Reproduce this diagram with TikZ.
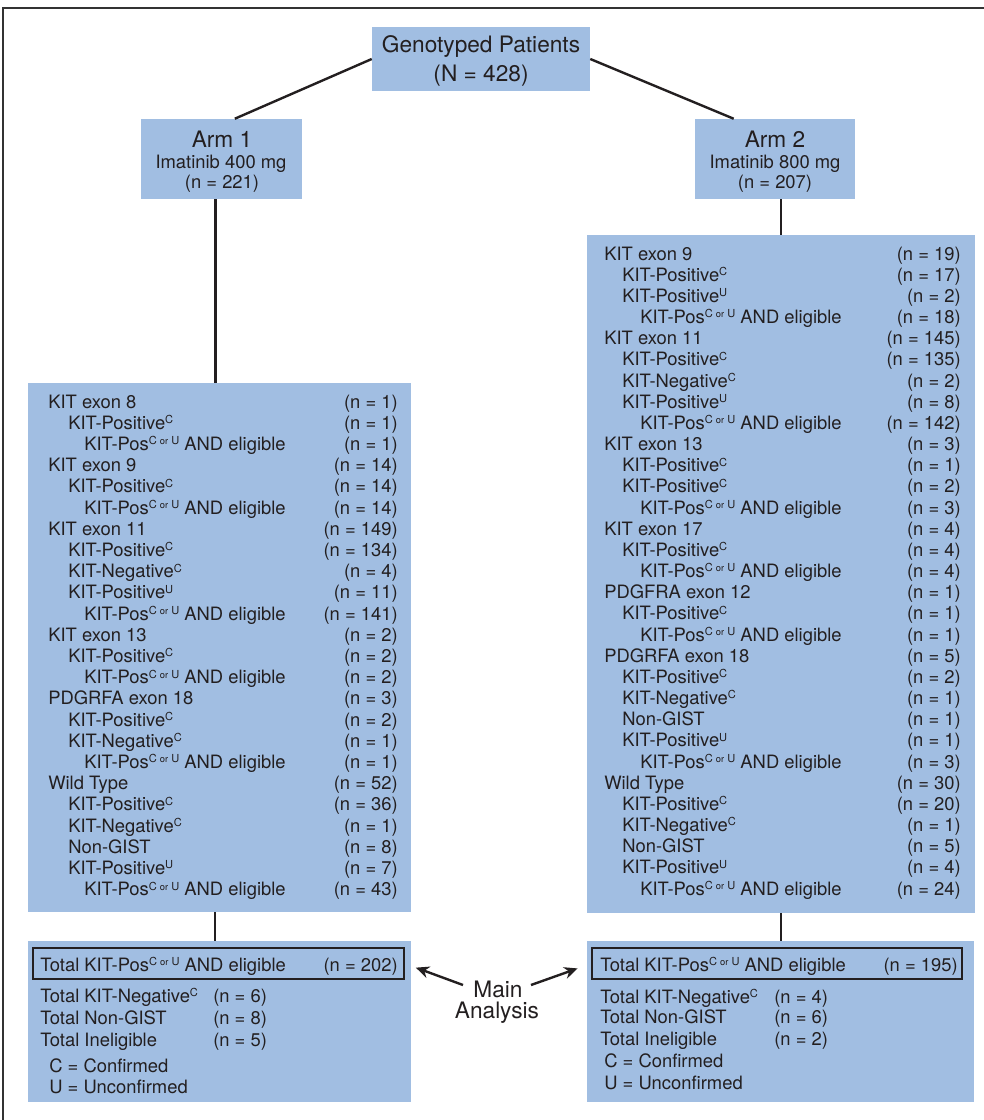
\documentclass[tikz,border=0pt]{standalone}
\usepackage{fontspec}
\setmainfont{TeX Gyre Heros}
\usetikzlibrary{fit,arrows.meta}

\definecolor{armblue}{RGB}{161,190,226}
\definecolor{inkgray}{RGB}{35,31,32}
\newcommand{\upsc}[1]{\raisebox{4.2pt}{\fontsize{8.3}{8}\selectfont #1}}
\newcommand{\supC}{\upsc{C}}
\newcommand{\supU}{\upsc{U}}
\newcommand{\posCU}{KIT-Pos\upsc{C {\fontsize{7}{7}\selectfont or} U} AND eligible}
\newcommand{\listfont}{\fontsize{13.8}{16}\selectfont}
\newcommand{\headfont}{\fontsize{17}{20}\selectfont}

\tikzset{
  bluebox/.style={fill=armblue, inner sep=0pt},
  mainbox/.style={draw=inkgray, line width=0.9pt, inner sep=0pt},
  rowtxt/.style={anchor=base west, inner sep=0pt, font=\listfont, text=inkgray},
  rowcnt/.style={anchor=base east, inner sep=0pt, font=\listfont, text=inkgray},
  headtxt/.style={anchor=base, inner sep=0pt, text=inkgray},
  link/.style={line width=1.8pt, inkgray},
}

\begin{document}
\begin{tikzpicture}[x=0.75pt, y=-0.75pt]
   \useasboundingbox (0,0) rectangle (984,1120);
   % outer frame (cut at right and bottom)
   \draw[black!80, line width=1.2pt] (3,1120) -- (3,8) -- (984,8);

   % boxes
   \node[bluebox, fit={(372,27) (590,91)}] (geno) {};
   \node[bluebox, fit={(141,119) (302,199)}] (arm1) {};
   \node[bluebox, fit={(695,119) (855,199)}] (arm2) {};
   \node[bluebox, fit={(28,383) (411,912)}] (lbox) {};
   \node[bluebox, fit={(587,235) (975,913)}] (rbox) {};
   \node[bluebox, fit={(28,941) (411,1102)}] (lsum) {};
   \node[bluebox, fit={(587,941) (974,1102)}] (rsum) {};
   \node[mainbox, fit={(33,948) (404,979)}] (lmain) {};
   \node[mainbox, fit={(592,948) (962,979)}] (rmain) {};

   % headings
   \node[headtxt, font=\headfont] (genoa) at (481,53) {Genotyped Patients};
   \node[headtxt, font=\headfont] (genob) at (481,82) {(N = 428)};
   \node[headtxt, font=\headfont] (arm1a) at (222,147) {Arm 1};
   \node[headtxt, font=\listfont] (arm1b) at (221,168) {Imatinib 400 mg};
   \node[headtxt, font=\listfont] (arm1c) at (222,188) {(n = 221)};
   \node[headtxt, font=\headfont] (arm2a) at (775,147) {Arm 2};
   \node[headtxt, font=\listfont] (arm2b) at (775,168) {Imatinib 800 mg};
   \node[headtxt, font=\listfont] (arm2c) at (775,188) {(n = 207)};

   % connectors
   \draw[link] (geno.west) -- ([xshift=10pt]arm1.north);
   \draw[link] (geno.east) -- ([xshift=-31pt]arm2.north);
   \draw[link] ([xshift=-4.5pt]arm1.south) -- ([xshift=-4.5pt]arm1.south |- lbox.north);
   \draw[link] (rbox.north) -- (rbox.north |- arm2.south);
   \draw[link] ([xshift=-3.5pt]lbox.south) -- ([xshift=-3.5pt]lsum.north);
   \draw[link] (rbox.south) -- (rbox.south |- rsum.north);

   % arm 1 list
   \foreach \lv/\txt/\cnt [count=\i from 0] in {
      0/KIT exon 8/1, 1/KIT-Positive\supC/1, 2/\posCU/1,
      0/KIT exon 9/14, 1/KIT-Positive\supC/14, 2/\posCU/14,
      0/KIT exon 11/149, 1/KIT-Positive\supC/134, 1/KIT-Negative\supC/4,
      1/KIT-Positive\supU/11, 2/\posCU/141,
      0/KIT exon 13/2, 1/KIT-Positive\supC/2, 2/\posCU/2,
      0/PDGRFA exon 18/3, 1/KIT-Positive\supC/2, 1/KIT-Negative\supC/1, 2/\posCU/1,
      0/Wild Type/52, 1/KIT-Positive\supC/36, 1/KIT-Negative\supC/1,
      1/Non-GIST/8, 1/KIT-Positive\supU/7, 2/\posCU/43}{
      \pgfmathsetmacro{\dx}{{0,20,36}[\lv]}
      \node[rowtxt] (lrow\i) at ({48+\dx}, {408+21.2*\i}) {\txt};
      \node[rowcnt] (lcnt\i) at (398, {408+21.2*\i}) {(n = \cnt)};
   }

   % arm 2 list
   \foreach \lv/\txt/\cnt [count=\i from 0] in {
      0/KIT exon 9/19, 1/KIT-Positive\supC/17, 1/KIT-Positive\supU/2, 2/\posCU/18,
      0/KIT exon 11/145, 1/KIT-Positive\supC/135, 1/KIT-Negative\supC/2,
      1/KIT-Positive\supU/8, 2/\posCU/142,
      0/KIT exon 13/3, 1/KIT-Positive\supC/1, 1/KIT-Positive\supC/2, 2/\posCU/3,
      0/KIT exon 17/4, 1/KIT-Positive\supC/4, 2/\posCU/4,
      0/PDGFRA exon 12/1, 1/KIT-Positive\supC/1, 2/\posCU/1,
      0/PDGRFA exon 18/5, 1/KIT-Positive\supC/2, 1/KIT-Negative\supC/1,
      1/Non-GIST/1, 1/KIT-Positive\supU/1, 2/\posCU/3,
      0/Wild Type/30, 1/KIT-Positive\supC/20, 1/KIT-Negative\supC/1,
      1/Non-GIST/5, 1/KIT-Positive\supU/4, 2/\posCU/24}{
      \pgfmathsetmacro{\dx}{{0,18,36}[\lv]}
      \node[rowtxt] (rrow\i) at ({604+\dx}, {260+21.17*\i}) {\txt};
      \node[rowcnt] (rcnt\i) at (961, {260+21.17*\i}) {(n = \cnt)};
   }

   % arm 1 totals
   \node[rowtxt] (ltot) at (40,971) {Total \posCU};
   \node[rowcnt] (ltotn) at (398,971) {(n = 202)};
   \node[rowtxt] (lneg) at (40,1002) {Total KIT-Negative\supC};
   \node[rowtxt] (lnegn) at (213,1002) {(n = 6)};
   \node[rowtxt] (lnon) at (40,1024) {Total Non-GIST};
   \node[rowtxt] (lnonn) at (213,1024) {(n = 8)};
   \node[rowtxt] (linel) at (40,1046) {Total Ineligible};
   \node[rowtxt] (lineln) at (213,1046) {(n = 5)};
   \node[rowtxt] (lconf) at (49,1072) {C = Confirmed};
   \node[rowtxt] (lunc) at (49,1093) {U = Unconfirmed};

   % arm 2 totals
   \node[rowtxt] (rtot) at (600,971) {Total \posCU};
   \node[rowcnt] (rtotn) at (958,971) {(n = 195)};
   \node[rowtxt] (rneg) at (600,1003) {Total KIT-Negative\supC};
   \node[rowtxt] (rnegn) at (774,1003) {(n = 4)};
   \node[rowtxt] (rnon) at (600,1023) {Total Non-GIST};
   \node[rowtxt] (rnonn) at (774,1023) {(n = 6)};
   \node[rowtxt] (rinel) at (600,1045) {Total Ineligible};
   \node[rowtxt] (rineln) at (774,1045) {(n = 2)};
   \node[rowtxt] (rconf) at (604,1067) {C = Confirmed};
   \node[rowtxt] (runc) at (604,1089) {U = Unconfirmed};

   % main analysis
   \node[headtxt, font=\headfont] (maina) at (498,997) {Main};
   \node[headtxt, font=\headfont] (mainb) at (497,1018) {Analysis};
   \coordinate (lfoot) at (463,985);
   \coordinate (rfoot) at (531,985);
   \draw[link, -{Stealth[length=10pt, width=9pt]}, shorten >=9pt] (lfoot) -- (lmain.east);
   \draw[link, -{Stealth[length=10pt, width=9pt]}, shorten >=11pt] (rfoot) -- (rmain.west);
\end{tikzpicture}
\end{document}
